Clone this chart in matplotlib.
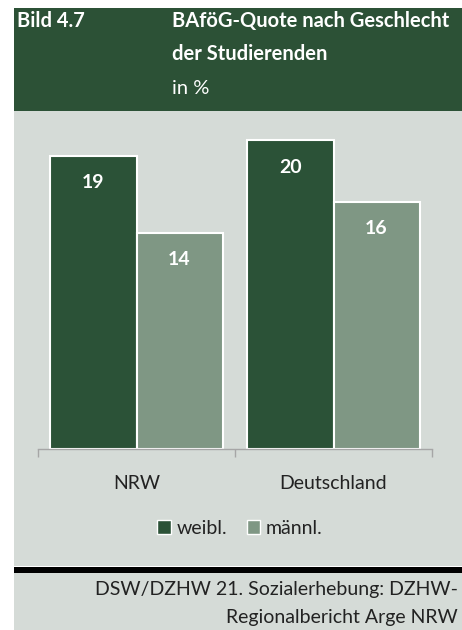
import matplotlib.pyplot as plt
from matplotlib.patches import Rectangle, Patch
import numpy as np

plt.rcParams['font.family'] = ['Lato', 'DejaVu Sans']

regionen = ['NRW', 'Deutschland']
weibl = [19, 20]
maennl = [14, 16]
serien = ['weibl.', 'männl.']

dunkel = '#2B5237'
hell = '#7F9784'
panel = '#D5DBD7'

fig = plt.figure(figsize=(4.62, 6.3), dpi=100)
fig.patch.set_facecolor('white')

# header, panel, black rule, footer
fig.add_artist(Rectangle((14/462, 1-111/630), 448/462, 103/630, transform=fig.transFigure,
                         facecolor='#2C5136', edgecolor='none', zorder=0))
fig.add_artist(Rectangle((14/462, 1-566/630), 448/462, 455/630, transform=fig.transFigure,
                         facecolor=panel, edgecolor='none', zorder=0))
fig.add_artist(Rectangle((14/462, 1-573/630), 448/462, 6/630, transform=fig.transFigure,
                         facecolor='black', edgecolor='none', zorder=0))
fig.add_artist(Rectangle((14/462, 0), 448/462, 57/630, transform=fig.transFigure,
                         facecolor=panel, edgecolor='none', zorder=0))

fig.text(17/462, 1-21/630, 'Bild 4.7', color='white', fontsize=14.5, fontweight='bold', va='center')
fig.text(172/462, 1-21/630, 'BAföG-Quote nach Geschlecht', color='white', fontsize=14.5,
         fontweight='bold', va='center')
fig.text(172/462, 1-54/630, 'der Studierenden', color='white', fontsize=14.5,
         fontweight='bold', va='center')
fig.text(172/462, 1-88/630, 'in %', color='white', fontsize=14.5, va='center')

ax = fig.add_axes([38/462, 1-449/630, 394/462, 329/630])
ax.set_facecolor('none')
x = np.arange(len(regionen))
w = 0.437
b1 = ax.bar(x - w/2, weibl, w, color=dunkel, edgecolor='white', linewidth=1.5, label=serien[0])
b2 = ax.bar(x + w/2, maennl, w, color=hell, edgecolor='white', linewidth=1.5, label=serien[1])
for bars, vals in [(b1, weibl), (b2, maennl)]:
    for r, v in zip(bars, vals):
        ax.text(r.get_x() + r.get_width()/2, v - 1.75, str(v), ha='center', va='center',
                color='white', fontsize=14, fontweight='bold')

ax.set_xlim(-0.5, 1.5)
ax.set_ylim(0, 21.3)
ax.set_yticks([])
ax.set_xticks([-0.5, 0.5, 1.5])
ax.set_xticklabels([])
ax.set_xticks(x, minor=True)
ax.set_xticklabels(regionen, minor=True, fontsize=14, color='#222222')
ax.tick_params(axis='x', which='major', length=6, color='#A6A6A6', width=1)
ax.tick_params(axis='x', which='minor', length=0, pad=19)
for s in ['top', 'left', 'right']:
    ax.spines[s].set_visible(False)
ax.spines['bottom'].set_color('#A6A6A6')
ax.spines['bottom'].set_linewidth(1)

handles = [Patch(facecolor=dunkel, edgecolor='white', label=serien[0]),
           Patch(facecolor=hell, edgecolor='white', label=serien[1])]
fig.legend(handles=handles, loc='center', bbox_to_anchor=(240/462, 1-528/630), ncol=2,
           frameon=False, fontsize=14, handlelength=0.7, handleheight=0.7,
           handletextpad=0.3, columnspacing=1.0, labelcolor='#222222')

fig.text(458/462, 1-589/630, 'DSW/DZHW 21. Sozialerhebung: DZHW-', ha='right', va='center',
         fontsize=14, color='#222222')
fig.text(458/462, 1-617/630, 'Regionalbericht Arge NRW', ha='right', va='center',
         fontsize=14, color='#222222')

fig.savefig('out.png', dpi=100)
